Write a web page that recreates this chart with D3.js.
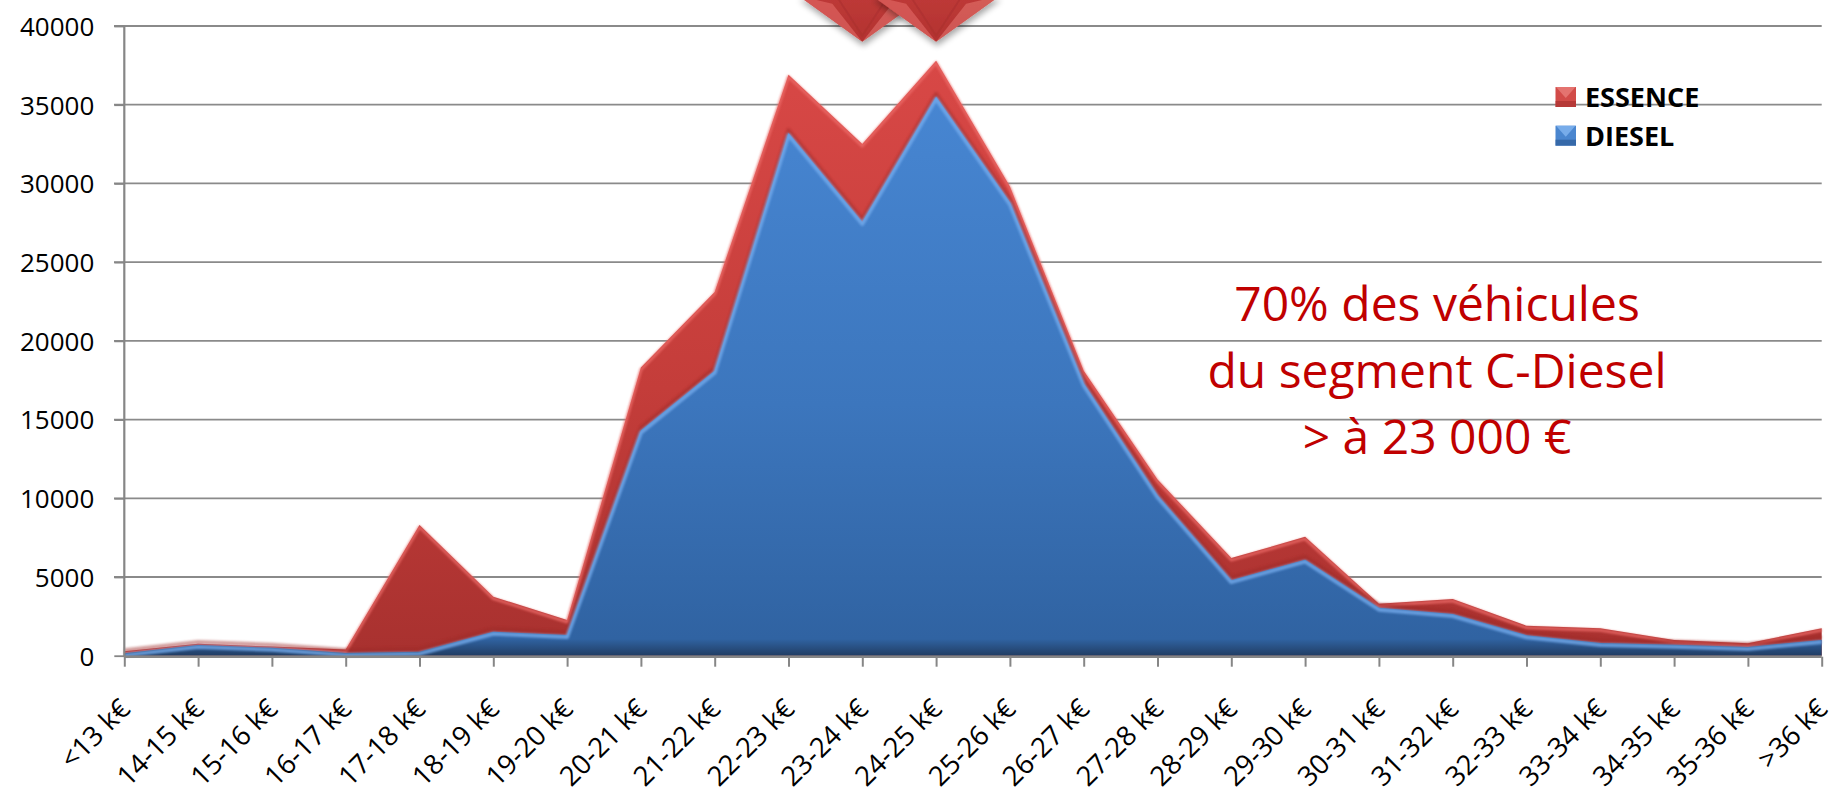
<!DOCTYPE html>
<html>
<head>
<meta charset="utf-8">
<script src="https://cdn.jsdelivr.net/npm/d3@7"></script>
<style>
  html, body { margin: 0; padding: 0; background: #ffffff; }
  svg { display: block; }
</style>
</head>
<body>
<script>
// ---------- DATA ----------
const categories = ["<13 k€","14-15 k€","15-16 k€","16-17 k€","17-18 k€","18-19 k€","19-20 k€",
  "20-21 k€","21-22 k€","22-23 k€","23-24 k€","24-25 k€","25-26 k€","26-27 k€","27-28 k€",
  "28-29 k€","29-30 k€","30-31 k€","31-32 k€","32-33 k€","33-34 k€","34-35 k€","35-36 k€",">36 k€"];
const diesel  = [150, 680, 500, 170, 250, 1520, 1310, 14300, 18100, 33200, 27550, 35500,
  28800, 17300, 10200, 4800, 6100, 3050, 2650, 1300, 800, 700, 560, 1000];
const essence = [130, 80, 80, 230, 8050, 2230, 960, 4000, 5000, 3700, 4950, 2300,
  1000, 800, 1000, 1400, 1450, 250, 950, 600, 950, 300, 230, 750];
const yTicks = [0, 5000, 10000, 15000, 20000, 25000, 30000, 35000, 40000];
const seriesNames = ["ESSENCE", "DIESEL"];
const annotLines = ["70% des véhicules", "du segment C-Diesel", "> à 23 000 €"];
const arrowTargets = ["23-24 k€", "24-25 k€"];
const arrowTipValue = 39000;

// ---------- SETUP ----------
const W = 1832, H = 792;
const svg = d3.select("body").append("svg").attr("width", W).attr("height", H);
const font = "'Open Sans', 'Liberation Sans', sans-serif";

const x = d3.scalePoint().domain(categories).range([124.3, 1821.7]);
const y = d3.scaleLinear().domain([0, 40000]).range([655.7, 26]);

const rows = categories.map((c, i) => ({ cat: c, diesel: diesel[i], essence: essence[i] }));
const stacked = d3.stack().keys(["diesel", "essence"])(rows);

const defs = svg.append("defs");
const blueGrad = defs.append("linearGradient").attr("id", "blueGrad")
  .attr("x1", 0).attr("y1", 0).attr("x2", 0).attr("y2", 1);
blueGrad.append("stop").attr("offset", "0%").attr("stop-color", "#4786d2");
blueGrad.append("stop").attr("offset", "55%").attr("stop-color", "#3c76bd");
blueGrad.append("stop").attr("offset", "97%").attr("stop-color", "#3063a2");
blueGrad.append("stop").attr("offset", "100%").attr("stop-color", "#213d63");
const redGrad = defs.append("linearGradient").attr("id", "redGrad")
  .attr("x1", 0).attr("y1", 0).attr("x2", 0).attr("y2", 1);
redGrad.append("stop").attr("offset", "0%").attr("stop-color", "#d84846");
redGrad.append("stop").attr("offset", "55%").attr("stop-color", "#c43d3a");
redGrad.append("stop").attr("offset", "100%").attr("stop-color", "#a8312f");
const arrGrad = defs.append("linearGradient").attr("id", "arrGrad")
  .attr("x1", 0).attr("y1", 0).attr("x2", 0).attr("y2", 1);
arrGrad.append("stop").attr("offset", "0%").attr("stop-color", "#d44a47");
arrGrad.append("stop").attr("offset", "100%").attr("stop-color", "#b33230");
const shadow = defs.append("filter").attr("id", "shadow")
  .attr("x", "-30%").attr("y", "-30%").attr("width", "160%").attr("height", "160%");
shadow.append("feGaussianBlur").attr("in", "SourceAlpha").attr("stdDeviation", 3).attr("result", "b");
shadow.append("feOffset").attr("in", "b").attr("dx", 1).attr("dy", 4).attr("result", "o");
shadow.append("feComponentTransfer").attr("in", "o").attr("result", "s")
  .append("feFuncA").attr("type", "linear").attr("slope", 0.35);
const m = shadow.append("feMerge");
m.append("feMergeNode").attr("in", "s");
m.append("feMergeNode").attr("in", "SourceGraphic");
const soft = defs.append("filter").attr("id", "soft");
soft.append("feGaussianBlur").attr("stdDeviation", 1.2);

// ---------- GRIDLINES ----------
const gridColor = "#8a8a8a";
svg.append("g").selectAll("line").data(yTicks.filter(v => v > 0)).join("line")
  .attr("x1", 114).attr("x2", x.range()[1])
  .attr("y1", d => y(d)).attr("y2", d => y(d))
  .attr("stroke", gridColor).attr("stroke-width", 1.8);

// ---------- AREAS ----------
const areaTotal = d3.area()
  .x(d => x(d.data.cat)).y0(y(0)).y1(d => y(d[1]));
const areaDiesel = d3.area()
  .x(d => x(d.data.cat)).y0(y(0)).y1(d => y(d[1]));

svg.append("path").datum(stacked[1]).attr("d", areaTotal).attr("fill", "url(#redGrad)");
svg.append("path").datum(stacked[1])
  .attr("d", d3.line().x(d => x(d.data.cat)).y(d => y(d[1]) + 2))
  .attr("fill", "none").attr("stroke", "#ec6a67").attr("stroke-width", 3)
  .attr("stroke-linejoin", "round").attr("opacity", 0.8).attr("filter", "url(#soft)");
svg.append("path").datum(stacked[0])
  .attr("d", d3.line().x(d => x(d.data.cat)).y(d => y(d[1]) - 3))
  .attr("fill", "none").attr("stroke", "#9c2a28").attr("stroke-width", 4)
  .attr("stroke-linejoin", "round").attr("opacity", 0.45).attr("filter", "url(#soft)");

svg.append("path").datum(stacked[0]).attr("d", areaDiesel).attr("fill", "url(#blueGrad)");
svg.append("path").datum(stacked[0])
  .attr("d", d3.line().x(d => x(d.data.cat)).y(d => y(d[1]) + 2))
  .attr("fill", "none").attr("stroke", "#74abec").attr("stroke-width", 4)
  .attr("stroke-linejoin", "round").attr("opacity", 0.8).attr("filter", "url(#soft)");

// ---------- AXES ----------
const axisColor = "#868686";
const yAxis = svg.append("g").attr("transform", `translate(${x.range()[0]},0)`)
  .call(d3.axisLeft(y).tickValues(yTicks).tickSize(10).tickPadding(20).tickFormat(d3.format("d")));
yAxis.select(".domain").attr("stroke", axisColor).attr("stroke-width", 2.2)
  .attr("d", `M0,${y(40000)}V${y(0) + 1}`);
yAxis.selectAll(".tick line").attr("stroke", axisColor).attr("stroke-width", 1.8);
yAxis.selectAll(".tick text").attr("font-family", font).attr("font-size", 26)
  .attr("fill", "#000").attr("dy", "0.36em");

const xAxis = svg.append("g").attr("transform", `translate(0,${y(0) + 1})`)
  .call(d3.axisBottom(x).tickSize(10).tickPadding(0));
xAxis.select(".domain").attr("stroke", axisColor).attr("stroke-width", 2.4)
  .attr("d", `M${x.range()[0]},0H${x.range()[1]}`);
xAxis.selectAll(".tick line").attr("stroke", axisColor).attr("stroke-width", 2);
xAxis.selectAll(".tick text")
  .attr("font-family", font).attr("font-size", 27.5).attr("fill", "#000")
  .attr("text-anchor", "end").attr("dy", 0).attr("y", 0)
  .attr("transform", "translate(7,54) rotate(-45)");

// ---------- ARROWS ----------
const tipY = y(arrowTipValue);
const arrows = svg.append("g");
arrowTargets.forEach(c => {
  const cx = x(c);
  const g = arrows.append("g").attr("filter", "url(#shadow)");
  g.append("path")
    .attr("d", `M${cx - 64},${tipY - 46} L${cx - 26},${tipY - 46} L${cx - 26},${tipY - 140} L${cx + 26},${tipY - 140} L${cx + 26},${tipY - 46} L${cx + 64},${tipY - 46} L${cx},${tipY} Z`)
    .attr("fill", "url(#arrGrad)");
  g.append("path")
    .attr("d", `M${cx - 64},${tipY - 46} L${cx - 30},${tipY - 38} L${cx},${tipY} Z`)
    .attr("fill", "#e8706c").attr("opacity", 0.55);
  g.append("path")
    .attr("d", `M${cx + 64},${tipY - 46} L${cx + 30},${tipY - 38} L${cx},${tipY} Z`)
    .attr("fill", "#f0847f").attr("opacity", 0.45);
  g.append("path")
    .attr("d", `M${cx - 26},${tipY - 46} L${cx},${tipY - 6} L${cx + 26},${tipY - 46}`)
    .attr("fill", "none").attr("stroke", "#a82e2c").attr("stroke-width", 2).attr("opacity", 0.5);
});

// ---------- LEGEND ----------
const legColors = { "ESSENCE": ["#d24b48", "#a93230", "#e77a77"], "DIESEL": ["#4a86cf", "#2e5d98", "#7fb3ee"] };
const leg = svg.append("g");
seriesNames.forEach((name, i) => {
  const ly = 87 + i * 38.7;
  const c = legColors[name];
  leg.append("rect").attr("x", 1555.5).attr("y", ly).attr("width", 20.5).attr("height", 20)
    .attr("fill", c[0]);
  leg.append("rect").attr("x", 1555.5).attr("y", ly + 14).attr("width", 20.5).attr("height", 6)
    .attr("fill", c[1]).attr("opacity", 0.7);
  leg.append("path").attr("d", `M1556,${ly} L1575.5,${ly} L1565.75,${ly + 11} Z`)
    .attr("fill", c[2]).attr("opacity", 0.85);
  leg.append("text").attr("x", 1585).attr("y", ly + 20.3)
    .attr("font-family", font).attr("font-weight", "bold").attr("font-size", 27)
    .attr("fill", "#000").text(name);
});

// ---------- ANNOTATION ----------
svg.append("g").selectAll("text").data(annotLines).join("text")
  .attr("x", 1437).attr("y", (d, i) => 321 + i * 66.5)
  .attr("text-anchor", "middle").attr("font-family", font).attr("font-size", 48)
  .attr("fill", "#c00000").text(d => d);
</script>
</body>
</html>
